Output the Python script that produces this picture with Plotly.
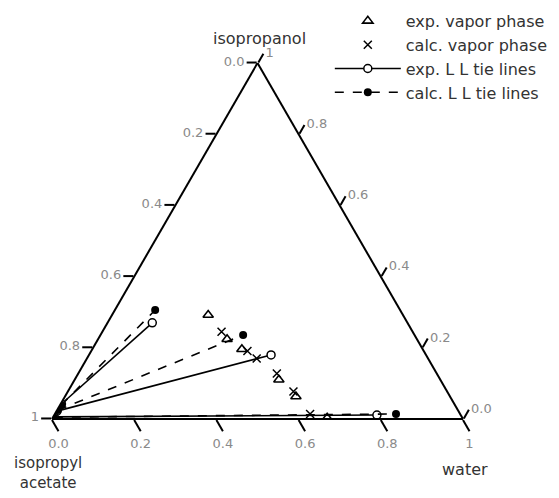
import plotly.graph_objects as go

# ---------------- data (mole fractions) ----------------
tick_vals = [0, 0.2, 0.4, 0.6, 0.8, 1.0]
tick_text_rev = ["1", "0.8", "0.6", "0.4", "0.2", "0.0"]

# experimental vapor phase
vap_exp_iso = [0.292, 0.224, 0.196, 0.110, 0.063, 0.003]
vap_exp_water = [0.234, 0.314, 0.364, 0.497, 0.562, 0.668]
# calculated vapor phase
vap_calc_iso = [0.245, 0.191, 0.170, 0.128, 0.077, 0.014]
vap_calc_water = [0.290, 0.380, 0.413, 0.483, 0.549, 0.621]

# experimental L-L tie lines (organic end / other end)
tie_exp_org_iso = [0.042, 0.022, 0.006]
tie_exp_org_water = [0.002, 0.001, 0.002]
tie_exp_aq_iso = [0.270, 0.180, 0.011]
tie_exp_aq_water = [0.109, 0.443, 0.785]
# calculated L-L tie lines
tie_calc_org_iso = [0.039, 0.025, 0.005]
tie_calc_org_water = [0.003, 0.002, 0.002]
tie_calc_aq_iso = [0.306, 0.236, 0.014]
tie_calc_aq_water = [0.098, 0.347, 0.830]

FONT = "DejaVu Sans"
TXT = "#333333"
fig = go.Figure()


def acetate(iso, water):
    return [round(1 - i - w, 4) for i, w in zip(iso, water)]


# tie lines
for k in range(len(tie_exp_aq_iso)):
    iso = [tie_exp_org_iso[k], tie_exp_aq_iso[k]]
    wat = [tie_exp_org_water[k], tie_exp_aq_water[k]]
    fig.add_trace(go.Scatterternary(
        a=iso, b=acetate(iso, wat), c=wat, mode="lines+markers",
        name="exp. L L tie lines", legendgroup="expll", showlegend=(k == 0),
        legendrank=3,
        line=dict(color="black", width=1.6),
        marker=dict(symbol="circle", size=8, color="white",
                    line=dict(color="black", width=1.5)),
    ))
for k in range(len(tie_calc_aq_iso)):
    iso = [tie_calc_org_iso[k], tie_calc_aq_iso[k]]
    wat = [tie_calc_org_water[k], tie_calc_aq_water[k]]
    fig.add_trace(go.Scatterternary(
        a=iso, b=acetate(iso, wat), c=wat, mode="lines+markers",
        name="calc. L L tie lines", legendgroup="calcll", showlegend=(k == 0),
        legendrank=4,
        line=dict(color="black", width=1.6, dash="dash"),
        marker=dict(symbol="circle", size=8, color="black"),
    ))

fig.add_trace(go.Scatterternary(
    a=vap_exp_iso, b=acetate(vap_exp_iso, vap_exp_water), c=vap_exp_water,
    mode="markers", name="exp. vapor phase", legendgroup="expv", legendrank=1,
    marker=dict(symbol="triangle-up-open", size=9, color="black",
                line=dict(width=1.6)),
))
fig.add_trace(go.Scatterternary(
    a=vap_calc_iso, b=acetate(vap_calc_iso, vap_calc_water), c=vap_calc_water,
    mode="markers", name="calc. vapor phase", legendgroup="calcv", legendrank=2,
    marker=dict(symbol="x-thin-open", size=8, color="black",
                line=dict(width=1.5, color="black")),
))

axis_common = dict(
    tickmode="array", tickvals=tick_vals, ticktext=tick_text_rev,
    ticks="outside", ticklen=10, tickwidth=2, tickcolor="black",
    showgrid=False, showline=True, linecolor="black", linewidth=2,
    tickfont=dict(family=FONT, size=13, color="#8a8a8a"),
    title=dict(text=""), min=0,
)
baxis = dict(axis_common, ticklen=13)

fig.update_layout(
    width=559, height=498,
    margin=dict(l=52, r=96, t=63, b=79, autoexpand=False),
    paper_bgcolor="white",
    font=dict(family=FONT, color=TXT),
    ternary=dict(
        sum=1, bgcolor="white",
        domain=dict(x=[0, 1], y=[0, 1]),
        aaxis=axis_common, baxis=baxis, caxis=axis_common,
    ),
    legend=dict(
        xref="container", yref="container", x=0.59, y=0.992,
        xanchor="left", yanchor="top",
        font=dict(family=FONT, size=16, color=TXT),
        bgcolor="rgba(0,0,0,0)", tracegroupgap=0, itemwidth=66,
    ),
    showlegend=True,
    annotations=[
        dict(text="isopropanol", x=0.506, y=1.07, xref="paper", yref="paper",
             xanchor="center", yanchor="middle", showarrow=False,
             font=dict(family=FONT, size=16, color=TXT)),
        dict(text="isopropyl<br>acetate", x=-0.01, y=-0.153, xref="paper",
             yref="paper", xanchor="center", yanchor="middle", showarrow=False,
             font=dict(family=FONT, size=15, color=TXT)),
        dict(text="water", x=1.005, y=-0.143, xref="paper", yref="paper",
             xanchor="center", yanchor="middle", showarrow=False,
             font=dict(family=FONT, size=16, color=TXT)),
    ],
)

fig.write_html("out.html")
